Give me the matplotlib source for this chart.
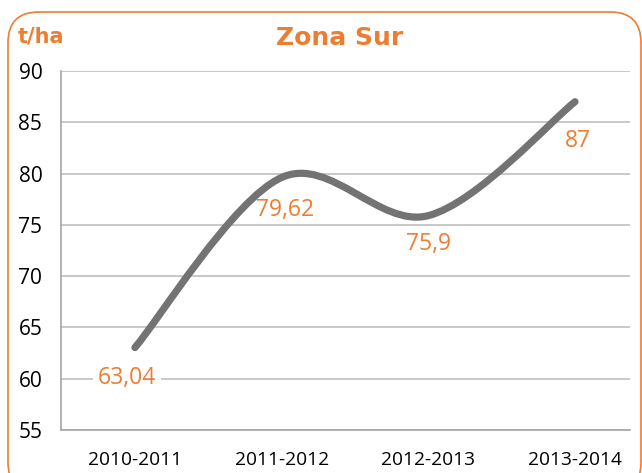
import numpy as np
import matplotlib
matplotlib.use("Agg")
import matplotlib.pyplot as plt
from matplotlib.patches import FancyBboxPatch
from matplotlib.path import Path
from matplotlib.patches import PathPatch

categories = ["2010-2011", "2011-2012", "2012-2013", "2013-2014"]
values = [63.04, 79.62, 75.9, 87.0]
value_labels = ["63,04", "79,62", "75,9", "87"]
yticks = [55, 60, 65, 70, 75, 80, 85, 90]

ORANGE = "#ED7D31"
LINE = "#737373"
GRID = "#BFBFBF"

fig = plt.figure(figsize=(6.42, 4.73), dpi=100)
ax = fig.add_axes([61/642, 43/473, (630-61)/642, (430-71)/473])

x = np.arange(len(values), dtype=float)
y = np.array(values, dtype=float)

# Excel-style smoothed line (Catmull-Rom -> cubic Bezier)
P = np.column_stack([x, y])
verts = [tuple(P[0])]
codes = [Path.MOVETO]
n = len(P)
for i in range(n - 1):
    p0 = P[i - 1] if i > 0 else P[i]
    p1 = P[i]
    p2 = P[i + 1]
    p3 = P[i + 2] if i + 2 < n else P[i + 1]
    c1 = p1 + (p2 - p0) / 6.0
    c2 = p2 - (p3 - p1) / 6.0
    verts += [tuple(c1), tuple(c2), tuple(p2)]
    codes += [Path.CURVE4] * 3
path = Path(verts, codes)
ax.add_patch(PathPatch(path, fill=False, edgecolor=LINE, linewidth=5.2,
                       capstyle="round", joinstyle="round", zorder=3))

ax.set_xlim(-0.504, 3.375)
ax.set_ylim(55, 90)
ax.set_yticks(yticks)
ax.set_xticks(x)
ax.set_xticklabels(categories)
ax.yaxis.grid(True, color=GRID, linewidth=1.2, zorder=0)
ax.set_axisbelow(True)
for s in ["top", "right"]:
    ax.spines[s].set_visible(False)
for s in ["left", "bottom"]:
    ax.spines[s].set_color("#A6A6A6")
    ax.spines[s].set_linewidth(1.2)
ax.tick_params(axis="both", length=0, colors="#000000")
ax.tick_params(axis="x", labelsize=13.8, pad=15)
ax.tick_params(axis="y", labelsize=15, pad=13.5)
for lab in ax.get_xticklabels() + ax.get_yticklabels():
    lab.set_fontfamily("Open Sans")

offsets = [(-8, -30), (3, -33), (0, -28), (3, -39)]
for i, (xi, yi, txt, off) in enumerate(zip(x, y, value_labels, offsets)):
    kw = {}
    if i == 0:
        kw["bbox"] = dict(boxstyle="square,pad=0.2", fc="white", ec="none")
    ax.annotate(txt, (xi, yi), xytext=(off[0] * 0.72, off[1] * 0.72),
                textcoords="offset points", ha="center", va="center",
                fontsize=16.5, color=ORANGE, fontfamily="Open Sans",
                zorder=2, **kw)

fig.text(340/642, 1 - 38/473, "Zona Sur", ha="center", va="center",
         fontsize=18, fontweight="bold", color=ORANGE, fontfamily="DejaVu Sans")
fig.text(18/642, 1 - 37/473, "t/ha", ha="left", va="center",
         fontsize=15, fontweight="bold", color=ORANGE, fontfamily="DejaVu Sans")

border = FancyBboxPatch((8/642, -20/473), (641-8)/642, (473+20-12)/473,
                        boxstyle="round,pad=0,rounding_size=0.048",
                        transform=fig.transFigure, fill=False,
                        edgecolor=ORANGE, linewidth=1.2, mutation_aspect=642/473)
fig.patches.append(border)

fig.savefig("out.png", dpi=100)
